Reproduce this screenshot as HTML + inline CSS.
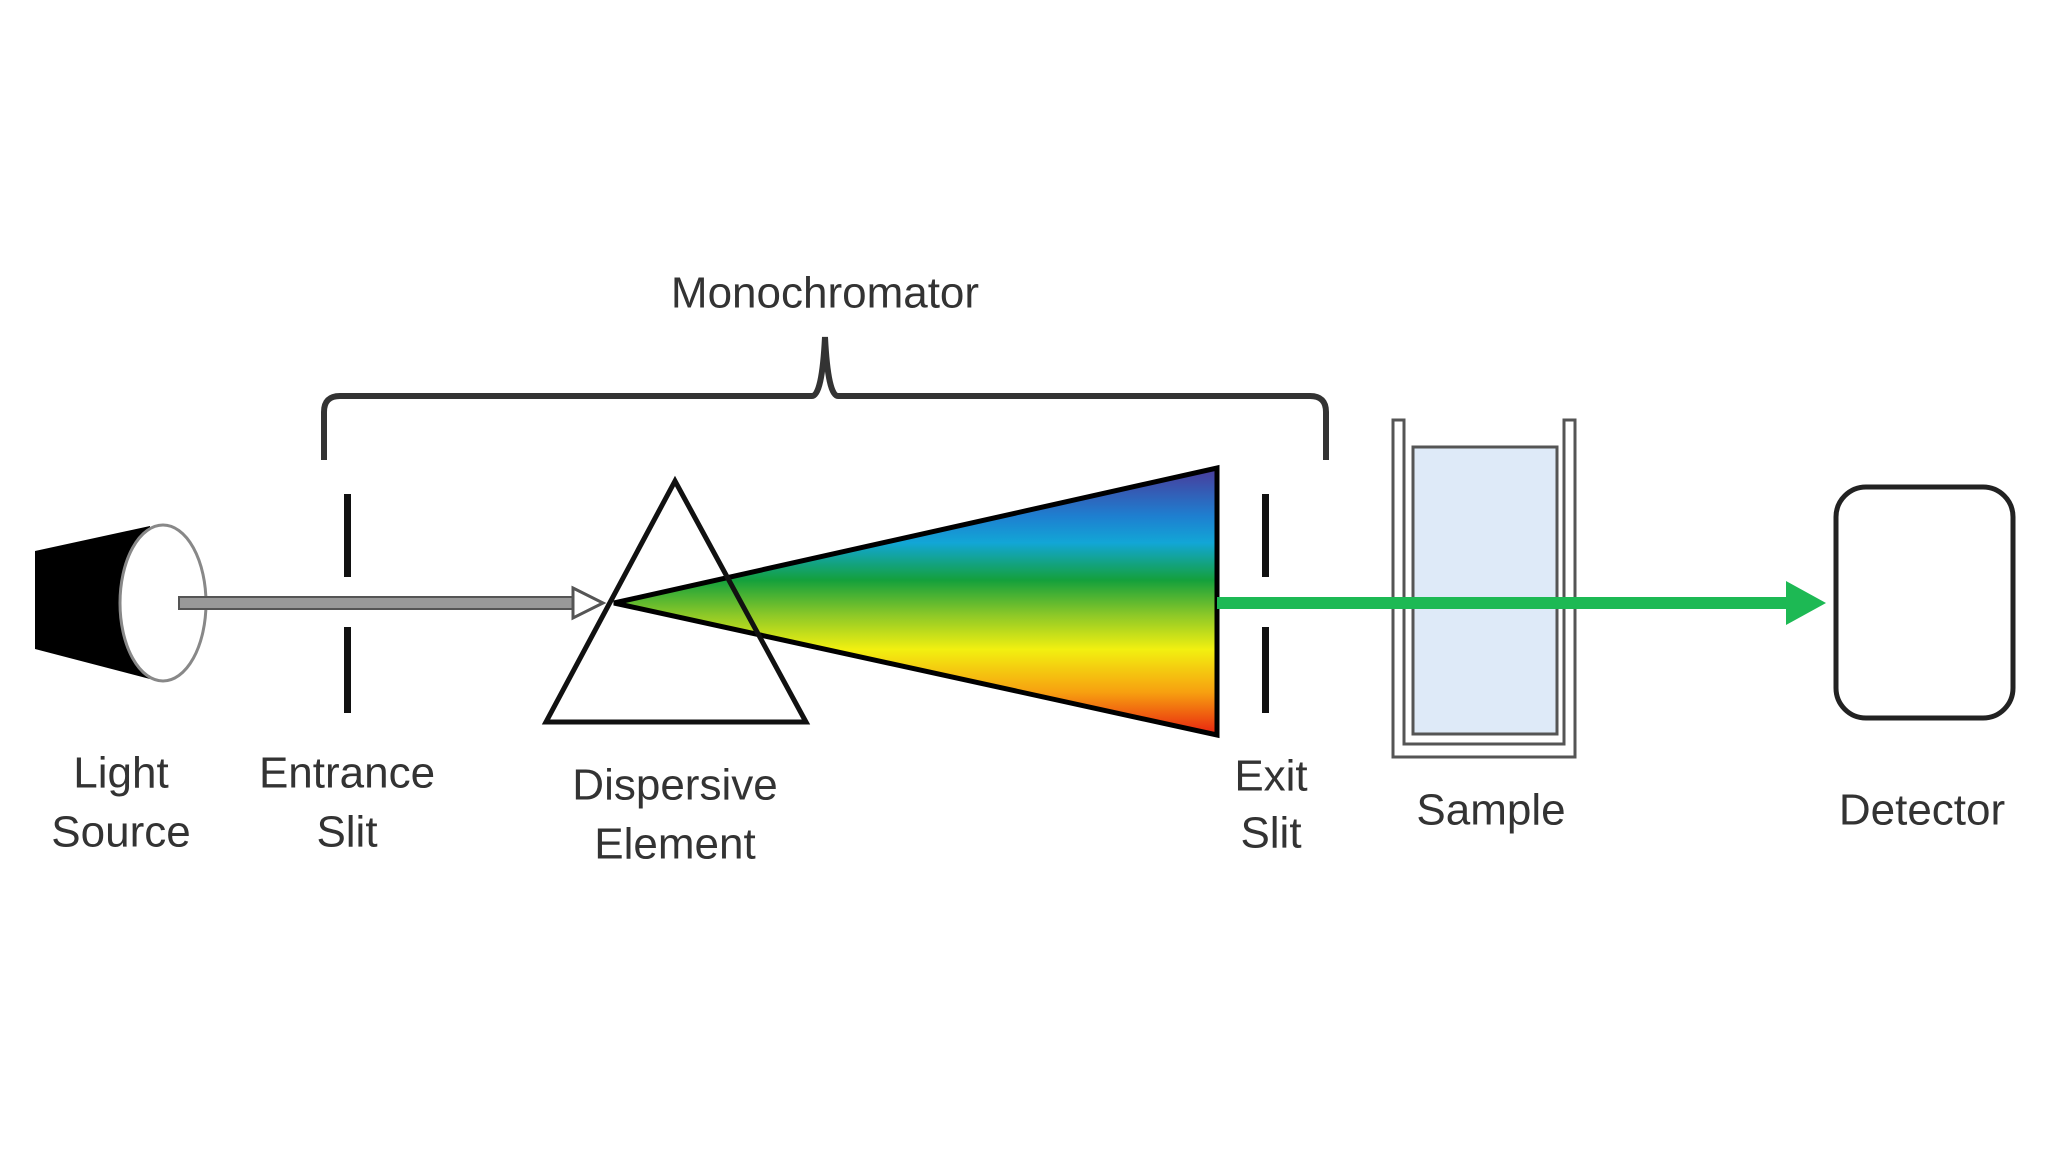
<!DOCTYPE html>
<html><head><meta charset="utf-8"><style>
html,body{margin:0;padding:0;background:#fff;}
svg{display:block;}
text{font-family:"Liberation Sans",sans-serif;font-size:44px;fill:#333;text-anchor:middle;dominant-baseline:central;}
</style></head><body>
<svg width="2048" height="1152" viewBox="0 0 2048 1152" xmlns="http://www.w3.org/2000/svg">
<defs>
<linearGradient id="sp" x1="0" y1="468" x2="0" y2="735" gradientUnits="userSpaceOnUse">
<stop offset="0" stop-color="#4a3a9a"/>
<stop offset="0.18" stop-color="#1e7fd0"/>
<stop offset="0.28" stop-color="#12a6d6"/>
<stop offset="0.42" stop-color="#14a03c"/>
<stop offset="0.55" stop-color="#8cc828"/>
<stop offset="0.68" stop-color="#f2f010"/>
<stop offset="0.84" stop-color="#f7a010"/>
<stop offset="1" stop-color="#e82010"/>
</linearGradient>
</defs>
<!-- light source -->
<polygon points="35,551 150,526 150,679 35,649" fill="#000"/>
<ellipse cx="163" cy="603" rx="43" ry="78" fill="#fff" stroke="#888" stroke-width="3"/>
<!-- gray beam -->
<rect x="179" y="597" width="396" height="12" fill="#999" stroke="#555" stroke-width="2"/>
<polygon points="573,588 603,603 573,618" fill="#fff" stroke="#555" stroke-width="3"/>
<!-- bracket -->
<path d="M324,460 L324,412 Q324,396 340,396 L812,396 Q822,396 825,337 Q828,396 838,396 L1310,396 Q1326,396 1326,412 L1326,460" fill="none" stroke="#333" stroke-width="6"/>
<text x="825" y="293">Monochromator</text>
<!-- entrance slit -->
<rect x="344" y="494" width="7" height="83" fill="#111"/>
<rect x="344" y="627" width="7" height="86" fill="#111"/>
<!-- spectrum -->
<polygon points="614,603 1217,468 1217,735" fill="url(#sp)" stroke="#000" stroke-width="5" stroke-linejoin="miter"/>
<!-- prism -->
<polygon points="675,481 546,722 806,722" fill="none" stroke="#111" stroke-width="5"/>
<!-- exit slit -->
<rect x="1262" y="494" width="7" height="83" fill="#111"/>
<rect x="1262" y="627" width="7" height="86" fill="#111"/>
<!-- cuvette -->
<path d="M1393,420 L1393,757 L1575,757 L1575,420 L1564,420 L1564,744 L1404,744 L1404,420 Z" fill="#fff" stroke="#555" stroke-width="3"/>
<rect x="1413" y="447" width="144" height="287" fill="#deeaf8" stroke="#555" stroke-width="3"/>
<!-- green beam -->
<rect x="1217" y="597" width="574" height="12" fill="#1db954"/>
<polygon points="1786,581 1826,603 1786,625" fill="#1db954"/>
<!-- detector -->
<rect x="1836" y="487" width="177" height="231" rx="30" fill="#fff" stroke="#222" stroke-width="5"/>
<!-- labels -->
<text x="121" y="773">Light</text>
<text x="121" y="832">Source</text>
<text x="347" y="773">Entrance</text>
<text x="347" y="832">Slit</text>
<text x="675" y="785">Dispersive</text>
<text x="675" y="844">Element</text>
<text x="1271" y="776">Exit</text>
<text x="1271" y="833">Slit</text>
<text x="1491" y="810">Sample</text>
<text x="1922" y="810">Detector</text>
</svg>
</body></html>
